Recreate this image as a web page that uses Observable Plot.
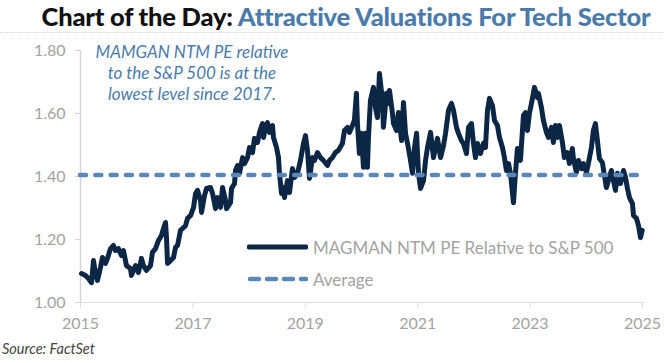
<!DOCTYPE html>
<html>
<head>
<meta charset="utf-8">
<script src="https://cdn.jsdelivr.net/npm/d3@7"></script>
<script src="https://cdn.jsdelivr.net/npm/@observablehq/plot@0.6"></script>
<style>
  html, body { margin: 0; padding: 0; background: #fff; }
  #wrap { position: relative; width: 664px; height: 363px; overflow: hidden; font-family: Lato, "Open Sans", sans-serif; }
  #title { height: 33px; border-bottom: 1px dotted #d8d8d8; box-sizing: border-box; text-align: center; font-weight: 900; font-size: 25.5px; line-height: 32px; color: #111; white-space: nowrap; padding-left: 28px; letter-spacing: -0.2px; }
  #title span { color: #4b7bab; }
  #chart { position: relative; height: 300px; margin-top: 3px; }
  #note { position: absolute; left: 92px; top: 5px; width: 200px; text-align: center; font-style: italic; font-size: 17px; line-height: 21px; color: #4b7bab; }
  #legend { position: absolute; left: 247px; top: 195px; font-size: 17px; color: #a3a3a3; }
  #legend div { height: 32px; display: flex; align-items: center; }
  #legend svg { margin-right: 5px; }
  #source { position: absolute; left: 2px; top: 340px; font-style: italic; font-size: 14.5px; color: #444; }
</style>
</head>
<body>
<div id="wrap">
  <div id="title">Chart of the Day: <span>Attractive Valuations For Tech Sector</span></div>
  <div id="chart">
    <div id="note">MAMGAN NTM PE relative to the S&amp;P 500 is at the lowest level since 2017.</div>
    <div id="legend">
      <div><svg width="61" height="8"><line x1="2" y1="4" x2="59" y2="4" stroke="#0c2646" stroke-width="4.8" stroke-linecap="round"/></svg><span id="lg1"></span></div>
      <div><svg width="61" height="8"><line x1="3" y1="4" x2="59" y2="4" stroke="#5a87b5" stroke-width="4.5" stroke-linecap="round" stroke-dasharray="9,8"/></svg><span id="lg2"></span></div>
    </div>
  </div>
  <div id="source">Source: FactSet</div>
</div>
<script>
// ---- Data ----
const seriesName = "MAGMAN NTM PE Relative to S&P 500";
const averageName = "Average";
const averageValue = 1.405;
const yTicks = [1.0, 1.2, 1.4, 1.6, 1.8];
const xTickYears = [2015, 2017, 2019, 2021, 2023, 2025];

// decimal year
const years = [
2015.018,2015.089,2015.142,2015.196,2015.231,2015.267,2015.302,2015.356,2015.391,2015.445,
2015.480,2015.534,2015.587,2015.623,2015.676,2015.730,2015.765,2015.819,2015.890,2015.907,
2015.979,2016.032,2016.085,2016.121,2016.174,2016.246,2016.281,2016.335,2016.388,2016.441,
2016.477,2016.512,2016.530,2016.548,2016.601,2016.655,2016.690,2016.726,2016.779,2016.815,
2016.868,2016.904,2016.957,2017.011,2017.046,2017.082,2017.135,2017.153,2017.206,2017.242,
2017.313,2017.349,2017.402,2017.438,2017.491,2017.527,2017.580,2017.598,2017.669,2017.687,
2017.740,2017.758,2017.794,2017.829,2017.883,2017.918,2017.972,2018.007,2018.060,2018.096,
2018.149,2018.185,2018.238,2018.256,2018.292,2018.327,2018.363,2018.416,2018.434,2018.488,
2018.523,2018.541,2018.577,2018.612,2018.630,2018.683,2018.719,2018.772,2018.808,2018.861,
2018.915,2018.968,2019.004,2019.039,2019.075,2019.128,2019.164,2019.217,2019.270,2019.324,
2019.395,2019.431,2019.484,2019.537,2019.591,2019.662,2019.698,2019.751,2019.786,2019.840,
2019.875,2019.911,2019.929,2019.964,2020.000,2020.036,2020.071,2020.107,2020.125,2020.160,
2020.214,2020.249,2020.285,2020.320,2020.374,2020.391,2020.445,2020.480,2020.498,2020.552,
2020.569,2020.623,2020.658,2020.712,2020.747,2020.783,2020.819,2020.872,2020.907,2020.943,
2020.979,2021.014,2021.050,2021.103,2021.139,2021.174,2021.228,2021.281,2021.317,2021.352,
2021.406,2021.459,2021.495,2021.548,2021.601,2021.637,2021.690,2021.726,2021.779,2021.815,
2021.868,2021.904,2021.957,2021.993,2022.028,2022.064,2022.117,2022.171,2022.206,2022.242,
2022.278,2022.331,2022.367,2022.420,2022.456,2022.509,2022.544,2022.580,2022.616,2022.651,
2022.705,2022.740,2022.776,2022.829,2022.883,2022.918,2022.954,2022.989,2023.025,2023.060,
2023.078,2023.132,2023.149,2023.203,2023.238,2023.292,2023.327,2023.381,2023.416,2023.452,
2023.488,2023.523,2023.577,2023.612,2023.665,2023.701,2023.754,2023.772,2023.826,2023.861,
2023.915,2023.950,2024.004,2024.039,2024.093,2024.128,2024.164,2024.199,2024.235,2024.288,
2024.324,2024.359,2024.395,2024.448,2024.484,2024.520,2024.555,2024.609,2024.662,2024.698,
2024.733,2024.769,2024.822,2024.840,2024.893,2024.929,2024.964,2024.995
];
const values = [
1.092,1.086,1.076,1.063,1.133,1.092,1.070,1.111,1.143,1.124,
1.140,1.171,1.181,1.165,1.171,1.149,1.165,1.117,1.108,1.086,
1.117,1.095,1.140,1.117,1.102,1.117,1.159,1.171,1.197,1.213,
1.235,1.254,1.206,1.124,1.133,1.143,1.175,1.181,1.229,1.235,
1.244,1.267,1.276,1.302,1.346,1.356,1.324,1.286,1.340,1.362,
1.365,1.346,1.298,1.333,1.302,1.365,1.324,1.298,1.317,1.362,
1.378,1.419,1.435,1.410,1.460,1.441,1.460,1.492,1.476,1.521,
1.508,1.540,1.568,1.524,1.556,1.571,1.540,1.562,1.524,1.492,
1.460,1.410,1.346,1.365,1.333,1.387,1.349,1.425,1.397,1.410,
1.451,1.505,1.530,1.483,1.394,1.460,1.451,1.476,1.460,1.451,
1.435,1.451,1.460,1.476,1.483,1.505,1.546,1.556,1.540,1.562,
1.578,1.664,1.568,1.473,1.537,1.429,1.537,1.429,1.524,1.641,
1.683,1.619,1.587,1.727,1.641,1.556,1.664,1.632,1.673,1.600,
1.568,1.546,1.603,1.514,1.635,1.537,1.505,1.451,1.410,1.492,
1.537,1.410,1.362,1.387,1.451,1.492,1.540,1.460,1.492,1.521,
1.460,1.498,1.537,1.610,1.632,1.610,1.556,1.537,1.514,1.505,
1.473,1.556,1.568,1.505,1.460,1.505,1.473,1.505,1.492,1.610,
1.648,1.625,1.578,1.562,1.524,1.492,1.460,1.419,1.441,1.410,
1.317,1.410,1.489,1.451,1.594,1.603,1.546,1.600,1.632,1.664,
1.683,1.651,1.664,1.619,1.578,1.540,1.524,1.556,1.508,1.562,
1.524,1.562,1.508,1.460,1.476,1.441,1.489,1.457,1.413,1.451,
1.425,1.441,1.413,1.441,1.492,1.546,1.568,1.514,1.457,1.444,
1.403,1.365,1.387,1.419,1.387,1.356,1.410,1.378,1.419,1.397,
1.362,1.333,1.314,1.276,1.267,1.244,1.206,1.229
];

function toDate(y) {
  const yr = Math.floor(y);
  const s = Date.UTC(yr, 0, 1), e = Date.UTC(yr + 1, 0, 1);
  return new Date(s + (y - yr) * (e - s));
}
const data = years.map((y, i) => ({date: toDate(y), value: values[i]}));
const xTicks = xTickYears.map(y => new Date(Date.UTC(y, 0, 1)));
const xDomain = [xTicks[0], xTicks[xTicks.length - 1]];

document.getElementById("lg1").textContent = seriesName;
document.getElementById("lg2").textContent = averageName;

const chart = Plot.plot({
  width: 664,
  height: 300,
  marginLeft: 80,
  marginRight: 22,
  marginTop: 14,
  marginBottom: 34,
  style: {fontFamily: "Lato, 'Open Sans', sans-serif", fontSize: "16px", color: "#a3a3a3", background: "transparent"},
  x: {type: "utc", domain: xDomain, ticks: xTicks, tickFormat: d3.utcFormat("%Y"), tickSize: 6, tickPadding: 9, label: null},
  y: {domain: [yTicks[0], yTicks[yTicks.length - 1]], ticks: yTicks, tickFormat: d3.format(".2f"), tickSize: 5, tickPadding: 10, label: null},
  marks: [
    Plot.ruleY([yTicks[0]], {stroke: "#dcdcdc", strokeWidth: 1}),
    Plot.ruleX([xDomain[0]], {stroke: "#d4d4d4", strokeWidth: 1.5}),
    Plot.axisX({ticks: xTicks, tickFormat: d3.utcFormat("%Y"), stroke: "#dcdcdc", tickSize: 6, tickPadding: 9, fill: "#a3a3a3"}),
    Plot.axisY({ticks: yTicks, tickFormat: d3.format(".2f"), stroke: "#d4d4d4", tickSize: 5, tickPadding: 10, fill: "#a3a3a3"}),
    Plot.lineY(data, {x: "date", y: "value", stroke: "#0c2646", strokeWidth: 5, strokeLinejoin: "round", strokeLinecap: "round"}),
    Plot.ruleY([averageValue], {stroke: "#5a87b5", strokeWidth: 4.5, strokeDasharray: "6,9.3", strokeLinecap: "round"})
  ]
});
document.getElementById("chart").prepend(chart);
</script>
</body>
</html>
